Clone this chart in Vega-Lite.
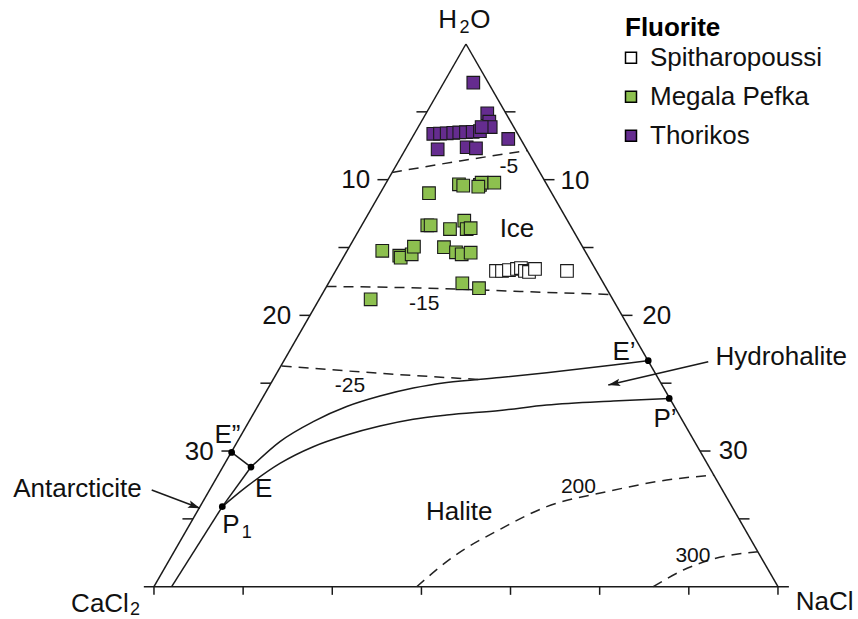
{
  "$schema": "https://vega.github.io/schema/vega-lite/v6.json",
  "width": 858,
  "height": 619,
  "autosize": "none",
  "padding": 0,
  "background": "white",
  "config": {"view": {"stroke": null}, "font": "Liberation Sans"},
  "datasets": {
    "rules": [
      {"u": -40, "s": 40, "u2": 0, "s2": 0},
      {"u": 0, "s": 0, "u2": 40, "s2": 40},
      {"u": -41.3, "s": 40, "u2": 41.4, "s2": 40},
      {"u": -5, "s": 5, "u2": -6.35, "s2": 5},
      {"u": -10, "s": 10, "u2": -11.35, "s2": 10},
      {"u": -15, "s": 15, "u2": -16.35, "s2": 15},
      {"u": -20, "s": 20, "u2": -21.35, "s2": 20},
      {"u": -25, "s": 25, "u2": -26.35, "s2": 25},
      {"u": -30, "s": 30, "u2": -31.35, "s2": 30},
      {"u": -35, "s": 35, "u2": -36.35, "s2": 35},
      {"u": 5, "s": 5, "u2": 6.35, "s2": 5},
      {"u": 10, "s": 10, "u2": 11.35, "s2": 10},
      {"u": 15, "s": 15, "u2": 16.35, "s2": 15},
      {"u": 20, "s": 20, "u2": 21.35, "s2": 20},
      {"u": 25, "s": 25, "u2": 26.35, "s2": 25},
      {"u": 30, "s": 30, "u2": 31.35, "s2": 30},
      {"u": 35, "s": 35, "u2": 36.35, "s2": 35},
      {"u": -40, "s": 40, "u2": -40, "s2": 40.6},
      {"u": -28.57, "s": 40, "u2": -28.57, "s2": 40.6},
      {"u": -17.14, "s": 40, "u2": -17.14, "s2": 40.6},
      {"u": -5.71, "s": 40, "u2": -5.71, "s2": 40.6},
      {"u": 5.71, "s": 40, "u2": 5.71, "s2": 40.6},
      {"u": 17.14, "s": 40, "u2": 17.14, "s2": 40.6},
      {"u": 28.57, "s": 40, "u2": 28.57, "s2": 40.6},
      {"u": 40, "s": 40, "u2": 40, "s2": 40.6},
      {"u": -30.04, "s": 30.1, "u2": -27.56, "s2": 31.18},
      {"u": -27.56, "s": 31.18, "u2": -31.24, "s2": 34.1},
      {"u": -31.24, "s": 34.1, "u2": -37.73, "s2": 40},
      {"u": -40.29, "s": 32.87, "u2": -34.1, "s2": 34.22},
      {"u": 31.06, "s": 23.42, "u2": 18.24, "s2": 25.14}
    ],
    "curves": [
      {"g": "upper", "o": 0, "u": -27.56, "s": 31.18},
      {"g": "upper", "o": 1, "u": -23.85, "s": 29.3},
      {"g": "upper", "o": 2, "u": -19.58, "s": 27.83},
      {"g": "upper", "o": 3, "u": -15.29, "s": 26.72},
      {"g": "upper", "o": 4, "u": -11.03, "s": 25.95},
      {"g": "upper", "o": 5, "u": -6.76, "s": 25.36},
      {"g": "upper", "o": 6, "u": -2.47, "s": 24.95},
      {"g": "upper", "o": 7, "u": 4.36, "s": 24.58},
      {"g": "upper", "o": 8, "u": 10.35, "s": 24.23},
      {"g": "upper", "o": 9, "u": 18.88, "s": 23.66},
      {"g": "upper", "o": 10, "u": 23.37, "s": 23.34},
      {"g": "lower", "o": 0, "u": -31.24, "s": 34.1},
      {"g": "lower", "o": 1, "u": -28.12, "s": 32.63},
      {"g": "lower", "o": 2, "u": -23.85, "s": 30.91},
      {"g": "lower", "o": 3, "u": -19.58, "s": 29.68},
      {"g": "lower", "o": 4, "u": -15.29, "s": 28.82},
      {"g": "lower", "o": 5, "u": -11.03, "s": 28.16},
      {"g": "lower", "o": 6, "u": -6.76, "s": 27.66},
      {"g": "lower", "o": 7, "u": -2.47, "s": 27.35},
      {"g": "lower", "o": 8, "u": 4.36, "s": 27.01},
      {"g": "lower", "o": 9, "u": 10.35, "s": 26.61},
      {"g": "lower", "o": 10, "u": 18.88, "s": 26.31},
      {"g": "lower", "o": 11, "u": 26.06, "s": 26.12}
    ],
    "isolines": [
      {"g": "m5", "o": 0, "u": -9.49, "s": 9.47},
      {"g": "m5", "o": 1, "u": -0.77, "s": 8.62},
      {"g": "m5", "o": 2, "u": 7.88, "s": 7.85},
      {"g": "m15", "o": 0, "u": -17.88, "s": 17.87},
      {"g": "m15", "o": 1, "u": -5.9, "s": 17.98},
      {"g": "m15", "o": 2, "u": 6.92, "s": 18.24},
      {"g": "m15", "o": 3, "u": 18.53, "s": 18.46},
      {"g": "m25", "o": 0, "u": -23.63, "s": 23.73},
      {"g": "m25", "o": 1, "u": -11.03, "s": 24.27},
      {"g": "m25", "o": 2, "u": 1.79, "s": 24.73},
      {"g": "t200", "o": 0, "u": -6.32, "s": 40.0},
      {"g": "t200", "o": 1, "u": -1.63, "s": 37.79},
      {"g": "t200", "o": 2, "u": 4.36, "s": 35.77},
      {"g": "t200", "o": 3, "u": 10.35, "s": 34.1},
      {"g": "t200", "o": 4, "u": 18.04, "s": 33.0},
      {"g": "t200", "o": 5, "u": 25.73, "s": 32.14},
      {"g": "t200", "o": 6, "u": 31.79, "s": 31.77},
      {"g": "t300", "o": 0, "u": 24.01, "s": 40.0},
      {"g": "t300", "o": 1, "u": 27.86, "s": 38.77},
      {"g": "t300", "o": 2, "u": 31.71, "s": 37.96},
      {"g": "t300", "o": 3, "u": 37.44, "s": 37.42}
    ],
    "samples": [
      {"site": "Megala Pefka", "u": -0.9, "s": 10.34},
      {"site": "Megala Pefka", "u": -0.35, "s": 10.44},
      {"site": "Megala Pefka", "u": 1.79, "s": 10.39},
      {"site": "Megala Pefka", "u": 2.01, "s": 10.22},
      {"site": "Megala Pefka", "u": 1.58, "s": 10.52},
      {"site": "Megala Pefka", "u": 3.63, "s": 10.22},
      {"site": "Megala Pefka", "u": -4.74, "s": 11.0},
      {"site": "Megala Pefka", "u": -4.96, "s": 13.36},
      {"site": "Megala Pefka", "u": -4.53, "s": 13.36},
      {"site": "Megala Pefka", "u": -2.05, "s": 13.64},
      {"site": "Megala Pefka", "u": -0.22, "s": 13.02},
      {"site": "Megala Pefka", "u": 0.09, "s": 13.64},
      {"site": "Megala Pefka", "u": 0.6, "s": 13.58},
      {"site": "Megala Pefka", "u": -10.73, "s": 15.24},
      {"site": "Megala Pefka", "u": -8.55, "s": 15.6},
      {"site": "Megala Pefka", "u": -8.37, "s": 15.75},
      {"site": "Megala Pefka", "u": -6.96, "s": 15.5},
      {"site": "Megala Pefka", "u": -6.67, "s": 14.94},
      {"site": "Megala Pefka", "u": -2.82, "s": 14.98},
      {"site": "Megala Pefka", "u": -1.28, "s": 15.35},
      {"site": "Megala Pefka", "u": -0.55, "s": 15.5},
      {"site": "Megala Pefka", "u": 0.6, "s": 15.38},
      {"site": "Megala Pefka", "u": -0.47, "s": 17.64},
      {"site": "Megala Pefka", "u": 1.67, "s": 18.0},
      {"site": "Megala Pefka", "u": -12.22, "s": 18.82},
      {"site": "Spitharopoussi", "u": 3.85, "s": 16.73},
      {"site": "Spitharopoussi", "u": 4.62, "s": 16.73},
      {"site": "Spitharopoussi", "u": 5.51, "s": 16.66},
      {"site": "Spitharopoussi", "u": 6.54, "s": 16.58},
      {"site": "Spitharopoussi", "u": 7.05, "s": 16.51},
      {"site": "Spitharopoussi", "u": 7.56, "s": 16.73},
      {"site": "Spitharopoussi", "u": 8.08, "s": 16.8},
      {"site": "Spitharopoussi", "u": 8.85, "s": 16.58},
      {"site": "Spitharopoussi", "u": 12.95, "s": 16.73},
      {"site": "Thorikos", "u": 0.94, "s": 2.85},
      {"site": "Thorikos", "u": -4.19, "s": 6.62},
      {"site": "Thorikos", "u": -3.33, "s": 6.6},
      {"site": "Thorikos", "u": -2.47, "s": 6.58},
      {"site": "Thorikos", "u": -1.63, "s": 6.55},
      {"site": "Thorikos", "u": -0.86, "s": 6.52},
      {"site": "Thorikos", "u": 0, "s": 6.5},
      {"site": "Thorikos", "u": 0.86, "s": 6.47},
      {"site": "Thorikos", "u": 1.79, "s": 6.42},
      {"site": "Thorikos", "u": 2.73, "s": 5.11},
      {"site": "Thorikos", "u": 2.99, "s": 5.73},
      {"site": "Thorikos", "u": 3.17, "s": 6.12},
      {"site": "Thorikos", "u": 2.01, "s": 6.12},
      {"site": "Thorikos", "u": 5.42, "s": 7.0},
      {"site": "Thorikos", "u": -3.63, "s": 7.76},
      {"site": "Thorikos", "u": 0.09, "s": 7.61},
      {"site": "Thorikos", "u": 1.28, "s": 7.69}
    ],
    "nodes": [
      {"name": "E''", "u": -30.04, "s": 30.1},
      {"name": "E", "u": -27.56, "s": 31.18},
      {"name": "P1", "u": -31.24, "s": 34.1},
      {"name": "E'", "u": 23.37, "s": 23.34},
      {"name": "P'", "u": 26.06, "s": 26.12}
    ],
    "labelsLarge": [
      {"t": "H", "u": -2.35, "s": -1.16},
      {"t": "O", "u": 1.83, "s": -1.16},
      {"t": "CaCl", "u": -46.92, "s": 41.84},
      {"t": "NaCl", "u": 45.99, "s": 41.72},
      {"t": "Ice", "u": 6.54, "s": 14.23},
      {"t": "Halite", "u": -0.86, "s": 35.09},
      {"t": "E”", "u": -30.58, "s": 29.43},
      {"t": "E", "u": -25.92, "s": 33.41},
      {"t": "P", "u": -30.13, "s": 36.07},
      {"t": "E’", "u": 20.26, "s": 23.29},
      {"t": "P’", "u": 25.51, "s": 28.21},
      {"t": "Antarcticite", "u": -49.81, "s": 33.37},
      {"t": "Hydrohalite", "u": 40.41, "s": 23.66},
      {"t": "10", "u": -14.13, "s": 10.64},
      {"t": "20", "u": -24.27, "s": 20.64},
      {"t": "30", "u": -34.21, "s": 30.66},
      {"t": "10", "u": 13.97, "s": 10.71},
      {"t": "20", "u": 24.45, "s": 20.64},
      {"t": "30", "u": 34.27, "s": 30.61}
    ],
    "labelsSmall": [
      {"t": "-5", "u": 5.51, "s": 9.5},
      {"t": "-15", "u": -5.35, "s": 19.61},
      {"t": "-25", "u": -14.87, "s": 25.63},
      {"t": "200", "u": 14.42, "s": 33.12},
      {"t": "300", "u": 29.1, "s": 38.16}
    ],
    "labelsSub": [
      {"t": "2", "u": -0.19, "s": -0.79},
      {"t": "2", "u": -42.44, "s": 42.05},
      {"t": "1", "u": -28.12, "s": 36.43}
    ]
  },
  "encoding": {
    "x": {"field": "u", "type": "quantitative", "axis": null, "scale": {"domain": [-59.74, 50.26], "nice": false, "zero": false}},
    "y": {"field": "s", "type": "quantitative", "axis": null, "scale": {"domain": [-3.243, 42.38], "nice": false, "zero": false, "reverse": true}}
  },
  "layer": [
    {
      "data": {"name": "rules"},
      "mark": {"type": "rule", "color": "#1a1a1a", "strokeWidth": 1.5},
      "encoding": {"x2": {"field": "u2"}, "y2": {"field": "s2"}}
    },
    {
      "data": {"name": "curves"},
      "mark": {"type": "line", "color": "#1a1a1a", "strokeWidth": 1.5, "interpolate": "monotone"},
      "encoding": {"detail": {"field": "g"}, "order": {"field": "o", "type": "quantitative"}}
    },
    {
      "data": {"name": "isolines"},
      "mark": {"type": "line", "color": "#222222", "strokeWidth": 1.5, "strokeDash": [10, 7], "interpolate": "monotone"},
      "encoding": {"detail": {"field": "g"}, "order": {"field": "o", "type": "quantitative"}}
    },
    {
      "data": {"name": "samples"},
      "mark": {"type": "point", "shape": "square", "filled": true, "size": 160, "stroke": "#1a1a1a", "strokeWidth": 1.1, "opacity": 1},
      "encoding": {
        "fill": {
          "field": "site", "type": "nominal",
          "scale": {"domain": ["Spitharopoussi", "Megala Pefka", "Thorikos"], "range": ["#ffffff", "#8dc04f", "#652c8f"]},
          "legend": {
            "title": "Fluorite", "orient": "none", "legendX": 625, "legendY": 14.8, "padding": 0,
            "titleFontSize": 26, "titleFontWeight": "bold", "titleColor": "#000000", "titleFont": "Liberation Sans", "titlePadding": 4,
            "labelFontSize": 26, "labelFont": "Liberation Sans", "labelColor": "#111111", "labelOffset": 6, "rowPadding": 13, "labelLimit": 0,
            "symbolOffset": -7,
            "symbolType": "square", "symbolSize": 121, "symbolStrokeColor": "#000000", "symbolStrokeWidth": 1.5, "symbolOpacity": 1
          }
        }
      }
    },
    {
      "data": {"name": "nodes"},
      "mark": {"type": "point", "shape": "circle", "filled": true, "size": 45, "color": "#000000", "opacity": 1}
    },
    {
      "data": {"values": [{"u": -34.1, "s": 34.22}]},
      "mark": {"type": "point", "shape": "M0,0L-1,-0.32L-0.8,0L-1,0.32Z", "filled": true, "size": 576, "color": "#1a1a1a", "opacity": 1, "angle": 20.75, "strokeWidth": 0}
    },
    {
      "data": {"values": [{"u": 18.24, "s": 25.14}]},
      "mark": {"type": "point", "shape": "M0,0L-1,-0.32L-0.8,0L-1,0.32Z", "filled": true, "size": 576, "color": "#1a1a1a", "opacity": 1, "angle": 166.9, "strokeWidth": 0}
    },
    {
      "data": {"name": "labelsLarge"},
      "mark": {"type": "text", "font": "Liberation Sans", "fontSize": 26, "align": "center", "baseline": "alphabetic", "color": "#111111"},
      "encoding": {"text": {"field": "t"}}
    },
    {
      "data": {"name": "labelsSmall"},
      "mark": {"type": "text", "font": "Liberation Sans", "fontSize": 21, "align": "center", "baseline": "alphabetic", "color": "#111111"},
      "encoding": {"text": {"field": "t"}}
    },
    {
      "data": {"name": "labelsSub"},
      "mark": {"type": "text", "font": "Liberation Sans", "fontSize": 18, "align": "center", "baseline": "alphabetic", "color": "#111111"},
      "encoding": {"text": {"field": "t"}}
    }
  ]
}
